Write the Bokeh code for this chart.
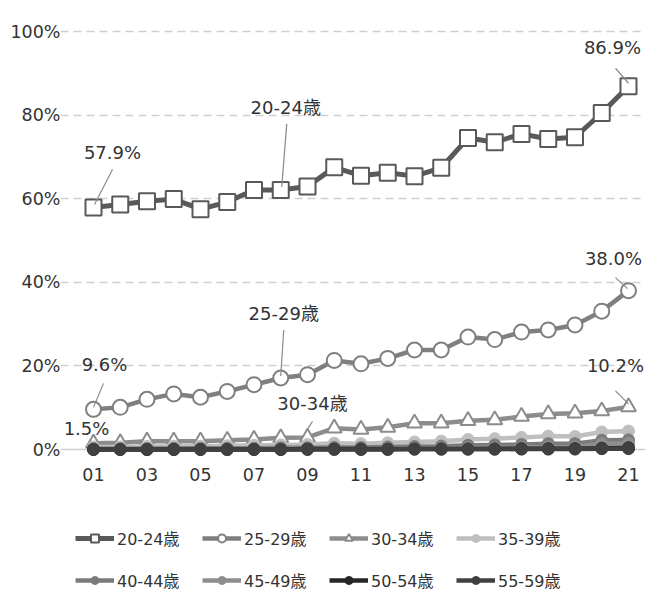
from bokeh.plotting import figure
from bokeh.models import (ColumnDataSource, FixedTicker, Legend, LegendItem, Label, Grid)
from bokeh.layouts import column
from bokeh.embed import file_html
from bokeh.resources import INLINE

years = list(range(1, 22))
year_labels = ["01", "03", "05", "07", "09", "11", "13", "15", "17", "19", "21"]
y_ticks = [0, 20, 40, 60, 80, 100]
y_tick_labels = ["0%", "20%", "40%", "60%", "80%", "100%"]

series_names = ["20-24歳", "25-29歳", "30-34歳", "35-39歳", "40-44歳", "45-49歳", "50-54歳", "55-59歳"]
s20 = [57.9, 58.6, 59.4, 59.9, 57.5, 59.2, 62.1, 62.1, 62.9, 67.5, 65.5, 66.2, 65.4, 67.4, 74.5, 73.5, 75.5, 74.3, 74.7, 80.5, 86.9]
s25 = [9.6, 10.1, 12.0, 13.3, 12.5, 13.9, 15.5, 17.1, 17.9, 21.3, 20.5, 21.8, 23.8, 23.8, 26.9, 26.3, 28.1, 28.6, 29.8, 33.1, 38.0]
s30 = [1.5, 1.6, 2.0, 2.0, 2.0, 2.2, 2.4, 2.8, 2.9, 5.1, 4.8, 5.3, 6.3, 6.3, 6.9, 7.1, 7.9, 8.5, 8.7, 9.2, 10.2]
s35 = [0.6, 0.6, 0.7, 0.8, 0.8, 0.9, 1.0, 1.1, 1.2, 1.5, 1.4, 1.6, 1.8, 2.0, 2.4, 2.6, 2.9, 3.2, 3.1, 4.2, 4.4]
s40 = [0.2, 0.2, 0.2, 0.3, 0.3, 0.3, 0.3, 0.4, 0.4, 0.5, 0.5, 0.6, 0.7, 0.8, 1.0, 1.1, 1.2, 1.4, 1.4, 2.2, 2.3]
s45 = [0.1, 0.1, 0.1, 0.1, 0.1, 0.1, 0.2, 0.2, 0.2, 0.2, 0.2, 0.3, 0.3, 0.3, 0.4, 0.4, 0.5, 0.6, 0.6, 1.4, 1.5]
s50 = [0.0, 0.0, 0.0, 0.0, 0.0, 0.0, 0.0, 0.0, 0.1, 0.1, 0.1, 0.1, 0.1, 0.1, 0.1, 0.1, 0.2, 0.2, 0.2, 0.3, 0.4]
s55 = [0.0, 0.0, 0.0, 0.0, 0.0, 0.0, 0.0, 0.0, 0.0, 0.0, 0.0, 0.0, 0.1, 0.1, 0.1, 0.1, 0.1, 0.1, 0.1, 0.2, 0.2]
all_series = [s20, s25, s30, s35, s40, s45, s50, s55]

FONT = "Verdana, DejaVu Sans, Noto Sans CJK JP"
TXT = "#333333"

styles = [
    ("#595959", 5, "square", 16, "white"),
    ("#7f7f7f", 4.5, "circle", 15, "white"),
    ("#8c8c8c", 4.5, "triangle", 15, "white"),
    ("#bfbfbf", 4.5, "circle", 12, None),
    ("#7a7a7a", 4.5, "circle", 12, None),
    ("#8e8e8e", 4.5, "circle", 12, None),
    ("#262626", 4.5, "circle", 12, None),
    ("#404040", 4.5, "circle", 12, None),
]

W, H = 645, 500
LEG_H = 92
left, right, top, bottom = 60, 0, 15, 40
frame_h = H - top - bottom
px_per_unit_y = 4.18
y0 = -(11 / px_per_unit_y)
y1 = y0 + frame_h / px_per_unit_y
px_per_year = 26.75
frame_w = W - left - right
x0 = 1 - 33 / px_per_year
x1 = x0 + frame_w / px_per_year
grid_start = x0 + 18 / px_per_year

p = figure(width=W, height=H, output_backend="svg", toolbar_location=None,
           x_range=(x0, x1), y_range=(y0, y1),
           min_border_left=left, min_border_right=right, min_border_top=top, min_border_bottom=bottom)
p.outline_line_color = None
p.background_fill_color = "white"
p.border_fill_color = "white"

p.xaxis.ticker = FixedTicker(ticks=[int(s) for s in year_labels])
p.xaxis.major_label_overrides = {int(s): s for s in year_labels}
p.yaxis.ticker = FixedTicker(ticks=y_ticks)
p.yaxis.major_label_overrides = dict(zip(y_ticks, y_tick_labels))
for ax in (p.xaxis[0], p.yaxis[0]):
    ax.axis_line_color = None
    ax.major_tick_line_color = None
    ax.minor_tick_line_color = None
    ax.major_tick_out = 0
    ax.major_tick_in = 0
    ax.major_label_text_font = FONT
    ax.major_label_text_font_size = "17.5px"
    ax.major_label_text_color = TXT
p.xaxis.major_label_standoff = 7
p.yaxis.major_label_standoff = 0

p.xgrid.grid_line_color = None
p.ygrid.ticker = FixedTicker(ticks=y_ticks[1:])
p.ygrid.grid_line_color = "#cfcfcf"
p.ygrid.grid_line_width = 1.5
p.ygrid.grid_line_dash = "8 5"
p.ygrid.bounds = (grid_start, x1)
p.add_layout(Grid(dimension=1, ticker=FixedTicker(ticks=[0]), bounds=(grid_start, x1),
                  grid_line_color="#cfcfcf", grid_line_width=1.5))

# legend canvas below the chart (its frame is aligned with the chart frame by the column)
lf = figure(width=W, height=LEG_H, output_backend="svg", toolbar_location=None,
            x_range=(100, 101), y_range=(100, 101), x_axis_type=None, y_axis_type=None,
            min_border=0)
lf.outline_line_color = None
lf.grid.visible = False

items = []
for name, vals, (col, lw, mk, ms, fill) in zip(series_names, all_series, styles):
    src = ColumnDataSource(dict(x=years, y=vals))
    fc = col if fill is None else fill
    mlw = 1 if fill is None else 2
    p.line("x", "y", source=src, line_color=col, line_width=lw)
    p.scatter("x", "y", source=src, marker=mk, size=ms, fill_color=fc, line_color=col, line_width=mlw)
    lr = lf.line("x", "y", source=src, line_color=col, line_width=lw)
    sr = lf.scatter("x", "y", source=src, marker=mk, size=ms, fill_color=fc, line_color=col, line_width=mlw)
    items.append(LegendItem(label=name, renderers=[lr, sr]))

annos = [
    (0, 0, None, (19, -55), (19, -38), (1, -3)),
    (0, 7, "20-24歳", (5, -82), (6, -66), (1, -3)),
    (0, 20, None, (-16, -39), (-13, -18), (0, -3)),
    (1, 7, "25-29歳", (3, -65), (3, -48), (0, -2)),
    (1, 0, None, (11, -45), (10, -26), (0, -2)),
    (2, 0, None, (-7, -15), None, None),
    (2, 8, "30-34歳", (5, -34), (5, -16), (-2, -5)),
    (1, 20, None, (-15, -32), (-13, -13), (-1, -2)),
    (2, 20, None, (-13, -41), (-13, -16), (0, -3)),
]
sx0, sy0, sx1, sy1 = [], [], [], []
for si, pi, txt, loff, ls, le in annos:
    xv, yv = years[pi], all_series[si][pi]
    text = txt if txt is not None else f"{yv:.1f}%"
    p.add_layout(Label(x=xv, y=yv, x_offset=loff[0], y_offset=-loff[1], text=text,
                       text_font=FONT, text_font_size="18px", text_color=TXT,
                       text_align="center", text_baseline="middle"))
    if ls is not None:
        sx0.append(xv + ls[0] / px_per_year); sy0.append(yv - ls[1] / px_per_unit_y)
        sx1.append(xv + le[0] / px_per_year); sy1.append(yv - le[1] / px_per_unit_y)
p.segment(sx0, sy0, sx1, sy1, line_color="#8a8a8a", line_width=1.2)

leg_kw = dict(orientation="horizontal", glyph_width=39, glyph_height=20, label_width=80,
              label_height=20, label_standoff=3, spacing=5, padding=0, margin=0,
              label_text_font=FONT, label_text_font_size="16px", label_text_color=TXT,
              border_line_color=None, background_fill_alpha=0)
lf.add_layout(Legend(items=items[:4], location=(15, 42), **leg_kw), "center")
lf.add_layout(Legend(items=items[4:], location=(15, 0), **leg_kw), "center")

layout = column(p, lf, spacing=0)
open("out.html", "w").write(file_html(layout, INLINE))
